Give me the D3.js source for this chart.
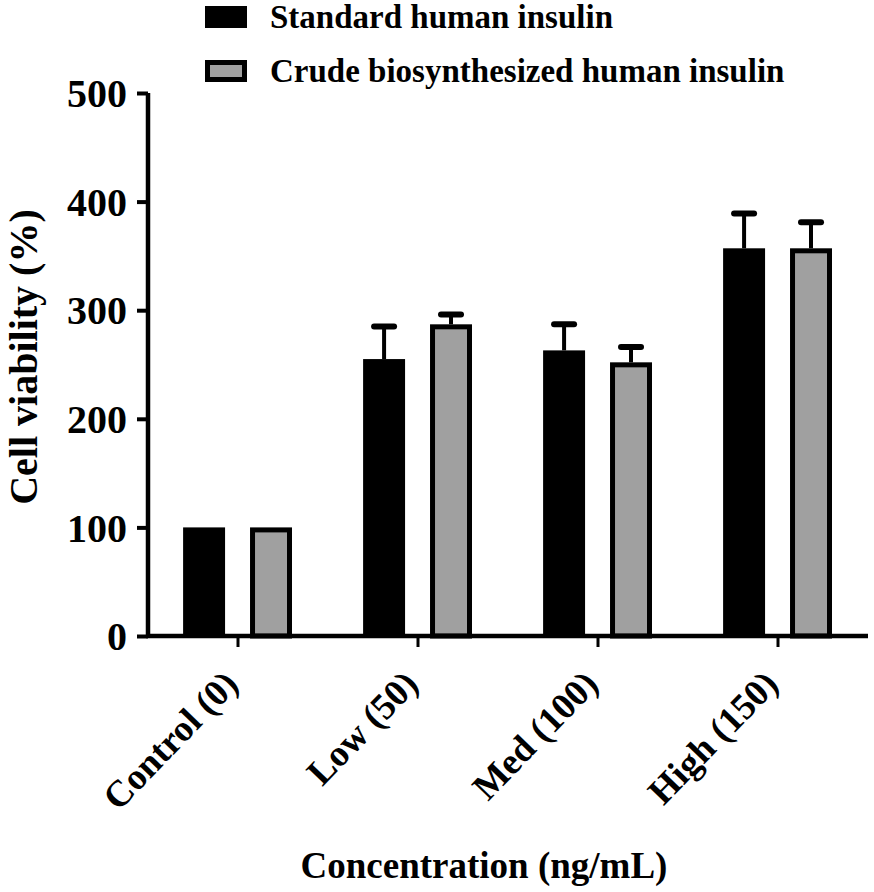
<!DOCTYPE html>
<html><head><meta charset="utf-8">
<script src="https://cdn.jsdelivr.net/npm/d3@7/dist/d3.min.js"></script>
<style>
body{margin:0;background:#fff;}
text{font-family:"Liberation Serif","Times New Roman",serif;font-weight:bold;fill:#000;}
</style></head>
<body><svg id="c" width="874" height="892"></svg>
<script>
const categories = ["Control (0)", "Low (50)", "Med (100)", "High (150)"];
const seriesNames = ["Standard human insulin", "Crude biosynthesized human insulin"];
const standardValues = [100, 255, 263, 357];
const standardErrors = [0, 31, 25, 33];
const crudeValues = [100, 287, 252, 357];
const crudeErrors = [0, 10, 15, 25];
const yTicks = [0, 100, 200, 300, 400, 500];
const yLabel = "Cell viability (%)";
const xLabel = "Concentration (ng/mL)";

(function(){
const series = [
  {name: seriesNames[0], values: standardValues, errors: standardErrors, fill: "#000000"},
  {name: seriesNames[1], values: crudeValues, errors: crudeErrors, fill: "#a0a0a0"}
];

const svg = d3.select("#c");
const pLeft = 148, pRight = 868, pTop = 93, pBottom = 636;

const x0 = d3.scaleBand().domain(categories).range([pLeft, pRight]).padding(0);
const bw = x0.bandwidth();
const x1 = d3.scaleBand().domain(seriesNames).range([bw * 0.195, bw * 0.8]).paddingInner(0.373);
const y = d3.scaleLinear().domain([0, 500]).range([pBottom, pTop]);

const g = svg.append("g");
series.forEach(s => {
  categories.forEach((c, i) => {
    const bx = x0(c) + x1(s.name);
    const w = x1.bandwidth();
    const v = s.values[i], e = s.errors[i];
    const cx = bx + w / 2;
    if (e > 0) {
      g.append("line").attr("x1", cx).attr("x2", cx).attr("y1", y(v)).attr("y2", y(v + e))
        .attr("stroke", "#000").attr("stroke-width", 4);
      g.append("line").attr("x1", cx - 10).attr("x2", cx + 10).attr("y1", y(v + e) + 1).attr("y2", y(v + e) + 1)
        .attr("stroke", "#000").attr("stroke-width", 6).attr("stroke-linecap", "round");
    }
    if (s.fill === "#000000") {
      g.append("rect").attr("x", bx).attr("y", y(v)).attr("width", w).attr("height", y(0) - y(v))
        .attr("fill", "#000");
    } else {
      g.append("rect").attr("x", bx + 2.5).attr("y", y(v) + 2.5).attr("width", w - 5).attr("height", y(0) - y(v) - 2.5)
        .attr("fill", s.fill).attr("stroke", "#000").attr("stroke-width", 5);
    }
  });
});

const yAxis = svg.append("g").attr("transform", `translate(${pLeft},0)`)
  .call(d3.axisLeft(y).tickValues(yTicks).tickSize(11).tickPadding(10).tickFormat(d3.format("d")));
yAxis.select(".domain").attr("stroke", "#000").attr("stroke-width", 4.5).attr("d", `M0,${pTop}V${pBottom + 2}`);
yAxis.selectAll(".tick line").attr("stroke", "#000").attr("stroke-width", 4);
yAxis.selectAll(".tick text").style("font-size", "40px").attr("dy", "0.34em")
  .style("font-family", '"Liberation Serif",serif').style("font-weight", "bold");

const xAxis = svg.append("g").attr("transform", `translate(0,${pBottom})`)
  .call(d3.axisBottom(x0).tickSize(11).tickPadding(8));
xAxis.select(".domain").attr("stroke", "#000").attr("stroke-width", 4.5).attr("d", `M${pLeft - 2},0H${pRight}`);
xAxis.selectAll(".tick line").attr("stroke", "#000").attr("stroke-width", 3);
xAxis.selectAll(".tick text").style("font-size", "37px")
  .style("font-family", '"Liberation Serif",serif').style("font-weight", "bold")
  .attr("text-anchor", "end").attr("dy", "0").attr("y", 0)
  .attr("transform", "translate(2,50) rotate(-46)");

svg.append("text").attr("transform", "translate(37,357) rotate(-90)").attr("text-anchor", "middle")
  .style("font-size", "40px").text(yLabel);
svg.append("text").attr("x", 484).attr("y", 878).attr("text-anchor", "middle")
  .style("font-size", "37px").text(xLabel);

const lg = svg.append("g");
series.forEach((s, i) => {
  const ly = 6 + i * 54;
  if (i === 0) {
    lg.append("rect").attr("x", 205).attr("y", ly).attr("width", 42).attr("height", 22).attr("fill", "#000");
  } else {
    lg.append("rect").attr("x", 207.5).attr("y", ly + 2.5).attr("width", 37).attr("height", 17)
      .attr("fill", s.fill).attr("stroke", "#000").attr("stroke-width", 5);
  }
  lg.append("text").attr("x", 270).attr("y", ly + 22).style("font-size", "33px").text(s.name);
});
})();
</script></body></html>
